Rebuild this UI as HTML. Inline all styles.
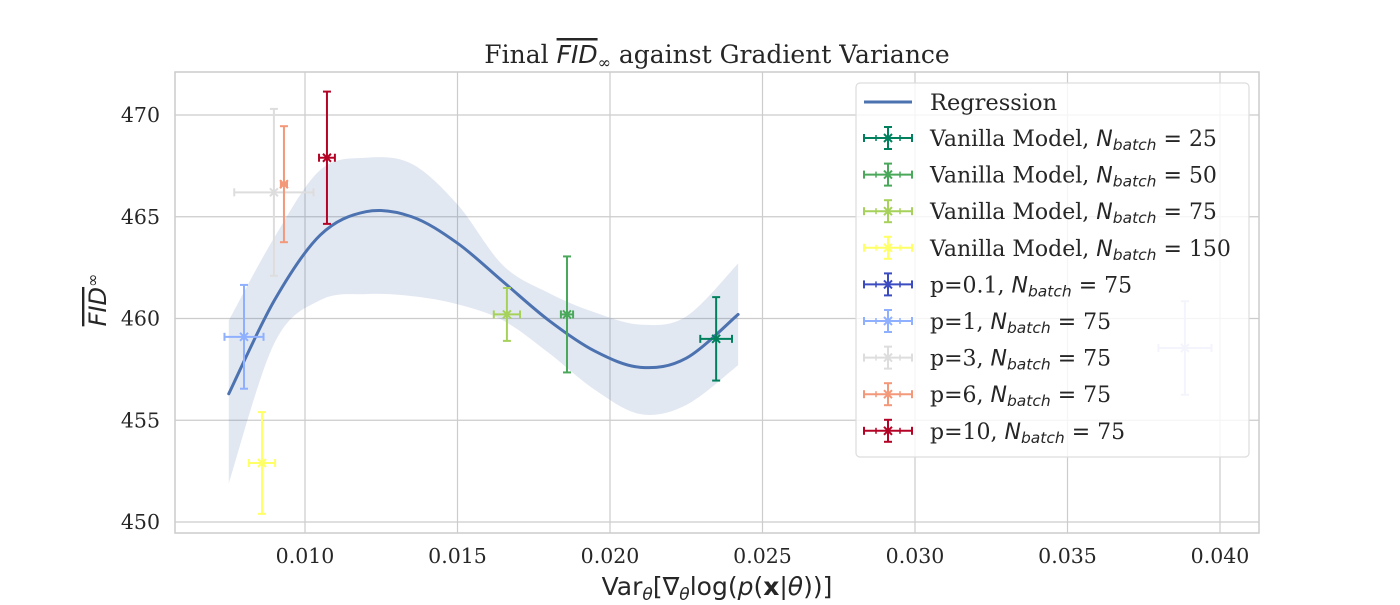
<!DOCTYPE html>
<html><head><meta charset="utf-8"><style>
body{margin:0;background:#fff}
svg text{fill:#262626}
</style></head><body>
<svg id="chart" width="1400" height="600" xmlns="http://www.w3.org/2000/svg">
<rect width="1400" height="600" fill="#fff"/>
<g id="grid"></g>
<g id="band"></g>
<g id="reg"></g>
<g id="pts"></g>
<rect x="175" y="72" width="1084" height="461" fill="none" stroke="#cccccc" stroke-width="1.5"/>
<g id="ticks"></g>
<text x="717" y="63" text-anchor="middle" font-family="DejaVu Serif, Liberation Serif, serif" font-size="25">Final <tspan font-family="DejaVu Sans, sans-serif" font-style="italic" text-decoration="overline">FID</tspan><tspan font-size="16" dy="5">∞</tspan><tspan dy="-5"> against Gradient Variance</tspan></text>
<text x="717" y="595" text-anchor="middle" font-family="DejaVu Sans, Liberation Sans, sans-serif" font-size="25">Var<tspan font-size="17" dy="5" font-style="italic">θ</tspan><tspan dy="-5">[∇</tspan><tspan font-size="17" dy="5" font-style="italic">θ</tspan><tspan dy="-5">log(</tspan><tspan font-style="italic">p</tspan>(<tspan font-weight="bold">x</tspan>|<tspan font-style="italic">θ</tspan>))]</text>
<text transform="translate(106,300) rotate(-90)" text-anchor="middle" font-family="DejaVu Sans, Liberation Sans, sans-serif" font-size="24"><tspan font-style="italic" text-decoration="overline">FID</tspan><tspan font-size="16" dy="-8">∞</tspan></text>
<g id="legend"></g>
</svg>
<script>
const xTicks=[0.010,0.015,0.020,0.025,0.030,0.035,0.040];
const xTickLabels=["0.010","0.015","0.020","0.025","0.030","0.035","0.040"];
const yTicks=[450,455,460,465,470];
const yTickLabels=["450","455","460","465","470"];
const regX=[0.0075,0.009,0.0105,0.012,0.0135,0.015,0.0165,0.018,0.0195,0.021,0.0225,0.0242];
const regY=[456.3,460.9,464.1,465.25,465.0,463.7,461.8,459.9,458.4,457.6,458.05,460.2];
const bandUpper=[459.9,464.0,467.3,467.9,467.6,465.6,462.6,461.25,460.3,459.7,460.1,462.7];
const bandLower=[451.9,458.8,460.9,461.2,461.1,460.7,459.9,458.3,456.5,455.3,455.75,457.7];
const seriesNames=["Vanilla Model, N=25","Vanilla Model, N=50","Vanilla Model, N=75","Vanilla Model, N=150","p=0.1, N=75","p=1, N=75","p=3, N=75","p=6, N=75","p=10, N=75"];
const pointX=[0.02348,0.01859,0.01662,0.00859,0.03885,0.0080,0.00898,0.00931,0.01072];
const pointY=[459.0,460.2,460.2,452.9,458.55,459.1,466.2,466.6,467.9];
const pointXErr=[0.00052,0.0002,0.00043,0.00043,0.00087,0.00064,0.0013,0.0001,0.00026];
const pointYErr=[2.05,2.85,1.3,2.5,2.3,2.55,4.1,2.85,3.25];
const colors=["#00805c","#4aa85a","#a6d15a","#ffff66","#3b4cc0","#8fb0fe","#dddddd","#f4987a","#b40426"];
const drawColors=["#00805c","#4aa85a","#a6d15a","#ffff66","#c8ccf0","#8fb0fe","#dddddd","#f4987a","#b40426"];
const legendNums=["25","50","75","150","75","75","75","75","75"];
const legendPre=["Vanilla Model, ","Vanilla Model, ","Vanilla Model, ","Vanilla Model, ","p=0.1, ","p=1, ","p=3, ","p=6, ","p=10, "];

const NS="http://www.w3.org/2000/svg";
const X=v=>305+(v-0.010)*30500;
const Y=f=>115+(470-f)*20.35;
function mk(p,tag,attrs){const e=document.createElementNS(NS,tag);for(const k in attrs)e.setAttribute(k,attrs[k]);p.appendChild(e);return e;}
const grid=document.getElementById('grid'),ticks=document.getElementById('ticks');
xTicks.forEach((t,i)=>{
 const l=mk(grid,'line',{x1:X(t),x2:X(t),y1:72,y2:533,stroke:'#cccccc','stroke-width':1.2});
 
 
 const tx=mk(ticks,'text',{x:X(t),y:563,'text-anchor':'middle','font-family':'DejaVu Serif, Liberation Serif, serif','font-size':20.5});
 tx.textContent=xTickLabels[i];
 
 
});
yTicks.forEach((t,i)=>{
 const l=mk(grid,'line',{x1:175,x2:1259,y1:Y(t),y2:Y(t),stroke:'#cccccc','stroke-width':1.2});
 
 
 const tx=mk(ticks,'text',{x:160,y:Y(t)+7,'text-anchor':'end','font-family':'DejaVu Serif, Liberation Serif, serif','font-size':20.5});
 tx.textContent=yTickLabels[i];
 
 
});
function smooth(pts){let d='M'+pts[0][0]+','+pts[0][1];
 for(let i=0;i<pts.length-1;i++){const p0=pts[i-1]||pts[i],p1=pts[i],p2=pts[i+1],p3=pts[i+2]||p2;
  d+=' C'+(p1[0]+(p2[0]-p0[0])/6)+','+(p1[1]+(p2[1]-p0[1])/6)+' '+(p2[0]-(p3[0]-p1[0])/6)+','+(p2[1]-(p3[1]-p1[1])/6)+' '+p2[0]+','+p2[1];}
 return d;}
const up=regX.map((x,i)=>[X(x),Y(bandUpper[i])]);
const lo=regX.map((x,i)=>[X(x),Y(bandLower[i])]).reverse();
const loD=smooth(lo);
const bp=mk(document.getElementById('band'),'path',{d:smooth(up)+' L'+lo[0][0]+','+lo[0][1]+loD.slice(loD.indexOf(' '))+' Z',fill:'#4c72b0','fill-opacity':0.16});


const rp=mk(document.getElementById('reg'),'path',{d:smooth(regX.map((x,i)=>[X(x),Y(regY[i])])),fill:'none',stroke:'#4c72b0','stroke-width':3,'stroke-linecap':'round'});


const pts=document.getElementById('pts');
function errbar(g,cx,cy,x0,x1,y0,y1,c,w){
 mk(g,'line',{x1:x0,x2:x1,y1:cy,y2:cy,stroke:c,'stroke-width':w});
 mk(g,'line',{x1:cx,x2:cx,y1:y0,y2:y1,stroke:c,'stroke-width':w});
 mk(g,'line',{x1:x0,x2:x0,y1:cy-4,y2:cy+4,stroke:c,'stroke-width':w});
 mk(g,'line',{x1:x1,x2:x1,y1:cy-4,y2:cy+4,stroke:c,'stroke-width':w});
 mk(g,'line',{x1:cx-4,x2:cx+4,y1:y0,y2:y0,stroke:c,'stroke-width':w});
 mk(g,'line',{x1:cx-4,x2:cx+4,y1:y1,y2:y1,stroke:c,'stroke-width':w});
 mk(g,'path',{d:`M${cx-4},${cy-4}L${cx+4},${cy+4}M${cx-4},${cy+4}L${cx+4},${cy-4}`,stroke:c,'stroke-width':w});
}
pointX.forEach((v,i)=>{
 const g=mk(pts,'g',{});
 
 
 errbar(g,X(v),Y(pointY[i]),X(v-pointXErr[i]),X(v+pointXErr[i]),Y(pointY[i]+pointYErr[i]),Y(pointY[i]-pointYErr[i]),drawColors[i],2);
});
const lg=document.getElementById('legend');
const box=mk(lg,'rect',{x:856,y:83,width:393,height:374,rx:4,fill:'#fff','fill-opacity':0.8,stroke:'#dddddd','stroke-width':1.2});


mk(lg,'line',{x1:864,x2:912,y1:102,y2:102,stroke:'#4c72b0','stroke-width':3});
const rt=mk(lg,'text',{x:930,y:110,'font-family':'DejaVu Serif, Liberation Serif, serif','font-size':22.5});
rt.textContent='Regression';


seriesNames.forEach((n,i)=>{
 const cy=138+i*36.6;
 const g=mk(lg,'g',{});
 
 
 errbar(g,888,cy,864,912,cy-11,cy+11,colors[i],2);
 mk(g,'line',{x1:876,x2:876,y1:cy-3,y2:cy+3,stroke:colors[i],'stroke-width':1.5});
 mk(g,'line',{x1:900,x2:900,y1:cy-3,y2:cy+3,stroke:colors[i],'stroke-width':1.5});
 const t=mk(g,'text',{x:930,y:cy+8,'font-family':'DejaVu Serif, Liberation Serif, serif','font-size':22});
 t.innerHTML=legendPre[i]+'<tspan font-family="DejaVu Sans, sans-serif" font-style="italic">N</tspan><tspan font-family="DejaVu Sans, sans-serif" font-style="italic" font-size="15.5" dy="4">batch</tspan><tspan font-family="DejaVu Sans, sans-serif" dy="-4"> = </tspan><tspan>'+legendNums[i]+'</tspan>';
});
</script>
</body></html>
